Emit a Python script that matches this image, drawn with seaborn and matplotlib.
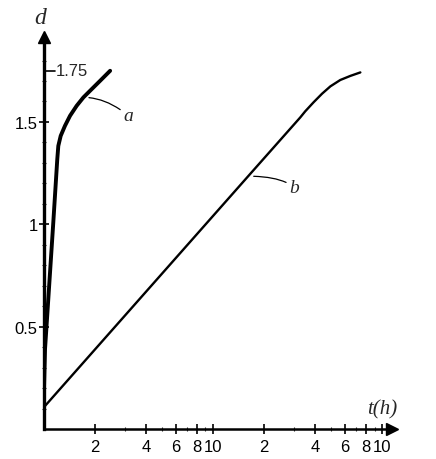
import numpy as np
import pandas as pd
import matplotlib
matplotlib.use("Agg")
import matplotlib.pyplot as plt
import seaborn as sns

# curve a
t_a = [1.0, 1.014, 1.135, 1.198, 1.215, 1.255, 1.33, 1.425, 1.56, 1.71, 1.87, 2.14, 2.46]
d_a = [0.20, 0.39, 1.01, 1.318, 1.383, 1.432, 1.481, 1.53, 1.579, 1.62, 1.652, 1.70, 1.75]

# curve b
t_b = [1.0, 16.1, 32.7, 35.0, 39.2, 44.0, 49.3, 56.4, 64.7, 74.1]
d_b = [0.107, 1.235, 1.522, 1.552, 1.596, 1.638, 1.674, 1.705, 1.725, 1.742]

xtick_pos = [2, 4, 6, 8, 10, 20, 40, 60, 80, 100]
xtick_labels = ['2', '4', '6', '8', '10', '2', '4', '6', '8', '10']
ytick_pos = [0.5, 1, 1.5]
ytick_labels = ['0.5', '1', '1.5']

sns.set_style("ticks")
plt.rcParams['font.family'] = ['Liberation Sans', 'DejaVu Sans']

fig = plt.figure(figsize=(4.36, 4.6), dpi=100)
ax = fig.add_axes([44 / 436, 1 - 430 / 460, (392 - 44) / 436, (430 - 38) / 460])

df_a = pd.DataFrame({'t': t_a, 'd': d_a})
df_b = pd.DataFrame({'t': t_b, 'd': d_b})
sns.lineplot(data=df_a, x='t', y='d', ax=ax, color='black', lw=2.8,
             solid_capstyle='round', solid_joinstyle='round')
sns.lineplot(data=df_b, x='t', y='d', ax=ax, color='black', lw=1.7,
             solid_capstyle='round', solid_joinstyle='round')

ax.set_xscale('log')
ax.set_xlim(1, 114)
ax.set_ylim(0, 1.915)

sns.despine(ax=ax)
ax.spines['left'].set_linewidth(2.4)
ax.spines['bottom'].set_linewidth(1.8)
ax.spines['left'].set_color('black')
ax.spines['bottom'].set_color('black')

# arrow heads
ax.plot(0, 1, '^', color='black', ms=8, transform=ax.transAxes, clip_on=False)
ax.plot(1, 0, '>', color='black', ms=8, transform=ax.transAxes, clip_on=False)

ax.set_xticks(xtick_pos)
ax.set_xticklabels(xtick_labels)
ax.xaxis.set_minor_locator(matplotlib.ticker.LogLocator(subs=[3, 5, 7, 9]))
ax.xaxis.set_minor_formatter(matplotlib.ticker.NullFormatter())
ax.set_yticks(ytick_pos)
ax.set_yticklabels(ytick_labels)
ax.set_yticks(np.arange(0.1, 1.9, 0.1), minor=True)
ax.tick_params(axis='both', which='major', direction='inout', length=7, width=1.2,
               labelsize=12, colors='black', pad=1, bottom=True, left=True)
ax.tick_params(axis='both', which='minor', direction='inout', length=3, width=0.8,
               bottom=True, left=True)
ax.tick_params(axis='x', which='major', pad=4)

# 1.75 marked on the right of the axis
ax.plot([1, 1.16], [1.75, 1.75], color='black', lw=1.2, clip_on=False)
ax.text(1.17, 1.75, '1.75', fontsize=12, va='center', ha='left')

ax.set_xlabel('')
ax.set_ylabel('')

serif = dict(family=['Liberation Serif', 'DejaVu Serif'], style='italic')
ax.annotate('a', xy=(1.71, 1.62), xytext=(2.95, 1.53), fontsize=14, va='center',
            arrowprops=dict(arrowstyle='-', color='black', lw=0.9,
                            connectionstyle='angle3,angleA=-40,angleB=0',
                            shrinkA=0, shrinkB=4), **serif)
ax.annotate('b', xy=(16.1, 1.235), xytext=(28.2, 1.18), fontsize=14, va='center',
            arrowprops=dict(arrowstyle='-', color='black', lw=0.9,
                            connectionstyle='angle3,angleA=-40,angleB=0',
                            shrinkA=0, shrinkB=4), **serif)

fig.text(40 / 436, 1 - 19 / 460, 'd', fontsize=17, ha='center', va='center', **serif)
fig.text(382 / 436, 1 - 410 / 460, 't(h)', fontsize=15, ha='center', va='center', **serif)

fig.savefig('out.png', dpi=100)
